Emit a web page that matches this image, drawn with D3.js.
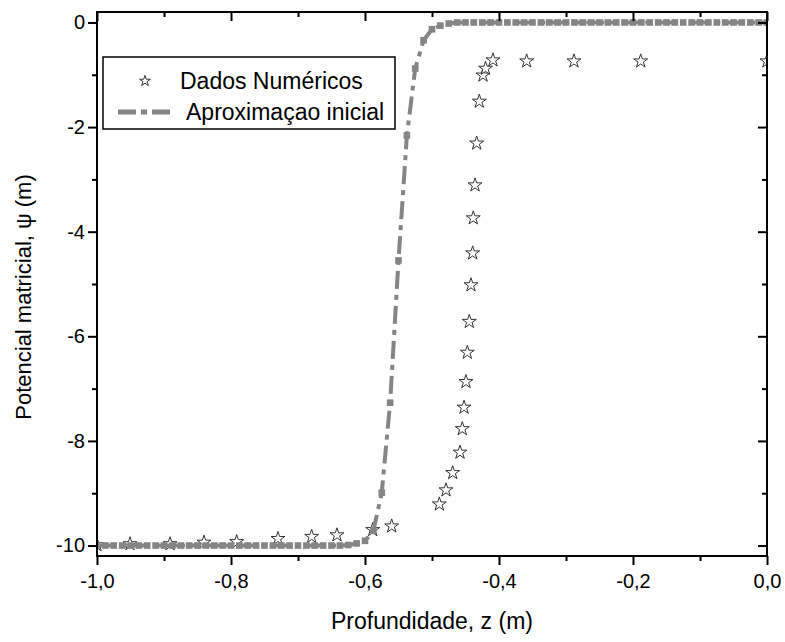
<!DOCTYPE html>
<html><head><meta charset="utf-8">
<script src="https://cdn.jsdelivr.net/npm/d3@7"></script>
<style>
body{margin:0;background:#fff}
svg{display:block}
text{font-family:"Liberation Sans",Arial,sans-serif;fill:#000}
</style>
</head><body><svg id="c" width="785" height="642"></svg>
<script>
// ---- data ----
const approxZ = [-1, -0.9875, -0.975, -0.9625, -0.95, -0.9375, -0.925, -0.9125, -0.9, -0.8875,
  -0.875, -0.8625, -0.85, -0.8375, -0.825, -0.8125, -0.8, -0.7875, -0.775, -0.7625,
  -0.75, -0.7375, -0.725, -0.7125, -0.7, -0.6875, -0.675, -0.6625, -0.65, -0.6375,
  -0.625, -0.6125, -0.6, -0.5875, -0.575, -0.5625, -0.55, -0.5375, -0.525, -0.5125,
  -0.5, -0.4875, -0.475, -0.4625, -0.45, -0.4375, -0.425, -0.4125, -0.4, -0.3875,
  -0.375, -0.3625, -0.35, -0.3375, -0.325, -0.3125, -0.3, -0.2875, -0.275, -0.2625,
  -0.25, -0.2375, -0.225, -0.2125, -0.2, -0.1875, -0.175, -0.1625, -0.15, -0.1375,
  -0.125, -0.1125, -0.1, -0.0875, -0.075, -0.0625, -0.05, -0.0375, -0.025, -0.0125, 0];
const approxPsi = [-10, -10, -10, -10, -10, -10, -10, -10, -10, -10,
  -10, -10, -10, -10, -10, -10, -10, -10, -10, -10,
  -10, -10, -10, -10, -10, -10, -10, -10, -10, -10,
  -9.99, -9.96, -9.91, -9.72, -8.99, -7.27, -4.55, -2.16, -0.88, -0.34,
  -0.13, -0.06, -0.02, 0, 0, 0, 0, 0, 0, 0,
  0, 0, 0, 0, 0, 0, 0, 0, 0, 0,
  0, 0, 0, 0, 0, 0, 0, 0, 0, 0,
  0, 0, 0, 0, 0, 0, 0, 0, 0, 0, 0];
const numZ = [-1.0, -0.9507, -0.891, -0.8403, -0.7915, -0.7299, -0.6796, -0.6418, -0.5885, -0.5601,
  -0.4891, -0.4791, -0.4691, -0.4582, -0.4548, -0.4522, -0.4493, -0.4473, -0.4443, -0.4418,
  -0.4393, -0.4384, -0.4358, -0.4333, -0.4294, -0.4239, -0.4201, -0.409,
  -0.3587, -0.2881, -0.1885, 0.0];
const numPsi = [-9.99, -9.97, -9.97, -9.94, -9.93, -9.87, -9.83, -9.80, -9.70, -9.63,
  -9.21, -8.94, -8.61, -8.22, -7.77, -7.36, -6.87, -6.31, -5.72, -5.02,
  -4.41, -3.74, -3.11, -2.31, -1.51, -1.01, -0.88, -0.72,
  -0.74, -0.74, -0.74, -0.74];
const xMajor = [-1.0, -0.8, -0.6, -0.4, -0.2, 0.0];
const xMinor = [-0.9, -0.7, -0.5, -0.3, -0.1];
const yMajor = [0, -2, -4, -6, -8, -10];
const yMinor = [-1, -3, -5, -7, -9];
const seriesNames = ["Dados Numéricos", "Aproximaçao inicial"];
const xTitle = "Profundidade, z (m)";
const yTitle = "Potencial matricial, ψ (m)";

// ---- layout ----
const L = 97, R = 767, T = 12, B = 556;
const svg = d3.select("#c");
const x = d3.scaleLinear().domain([-1, 0]).range([L, R]);
const y = d3.scaleLinear().domain([-10.2, 0.2]).range([B, T]);

const loc = d3.formatLocale({decimal: ",", thousands: ".", grouping: [3], currency: ["", ""], minus: "-"});
const fx = loc.format(".1f");
const fy = loc.format("d");

const gray = "#858585";

svg.append("defs").append("clipPath").attr("id", "clip")
  .append("rect").attr("x", L).attr("y", T).attr("width", R - L).attr("height", B - T);

const plot = svg.append("g").attr("clip-path", "url(#clip)");

// numeric data: stars
const star = d3.symbol().type(d3.symbolStar).size(60);
plot.append("g").selectAll("path").data(numZ.map((z, i) => [z, numPsi[i]])).join("path")
  .attr("d", star)
  .attr("transform", d => `translate(${x(d[0])},${y(d[1])})`)
  .attr("fill", "#fff").attr("stroke", "#333").attr("stroke-width", 1);

// approximation: dash-dot line + squares
const pts = approxZ.map((z, i) => [z, approxPsi[i]]);
const line = d3.line().x(d => x(d[0])).y(d => y(d[1]));
plot.append("path").datum(pts).attr("d", line)
  .attr("fill", "none").attr("stroke", gray).attr("stroke-width", 4)
  .attr("stroke-dasharray", "18,6,5,6");
const sq = d3.symbol().type(d3.symbolSquare).size(44);
plot.append("g").selectAll("path").data(pts).join("path")
  .attr("d", sq)
  .attr("transform", d => `translate(${x(d[0])},${y(d[1])})`)
  .attr("fill", gray);

// ---- axes ----
function styleAxis(g) {
  g.select(".domain").remove();
  g.selectAll("line").attr("stroke", "#000").attr("stroke-width", 2);
  g.selectAll("text").attr("font-size", 20).attr("fill", "#000")
    .style("font-family", '"Liberation Sans",Arial,sans-serif');
}
svg.append("g").attr("transform", `translate(0,${B})`)
  .call(d3.axisBottom(x).tickValues(xMajor).tickSize(9).tickPadding(9).tickFormat(fx)).call(styleAxis);
svg.append("g").attr("transform", `translate(0,${B})`)
  .call(d3.axisBottom(x).tickValues(xMinor).tickSize(5).tickFormat("")).call(styleAxis);
svg.append("g").attr("transform", `translate(0,${T})`)
  .call(d3.axisTop(x).tickValues(xMajor).tickSize(-9).tickFormat("")).call(styleAxis);
svg.append("g").attr("transform", `translate(0,${T})`)
  .call(d3.axisTop(x).tickValues(xMinor).tickSize(-5).tickFormat("")).call(styleAxis);
svg.append("g").attr("transform", `translate(${L},0)`)
  .call(d3.axisLeft(y).tickValues(yMajor).tickSize(9).tickPadding(3).tickFormat(fy)).call(styleAxis);
svg.append("g").attr("transform", `translate(${L},0)`)
  .call(d3.axisLeft(y).tickValues(yMinor).tickSize(5).tickFormat("")).call(styleAxis);
svg.append("g").attr("transform", `translate(${R},0)`)
  .call(d3.axisRight(y).tickValues(yMajor).tickSize(-9).tickFormat("")).call(styleAxis);
svg.append("g").attr("transform", `translate(${R},0)`)
  .call(d3.axisRight(y).tickValues(yMinor).tickSize(-5).tickFormat("")).call(styleAxis);

svg.append("rect").attr("x", L).attr("y", T).attr("width", R - L).attr("height", B - T)
  .attr("fill", "none").attr("stroke", "#000").attr("stroke-width", 2);

// titles
svg.append("text").attr("x", (L + R) / 2).attr("y", 629).attr("text-anchor", "middle")
  .attr("font-size", 23).text(xTitle);
svg.append("text").attr("transform", `translate(31,297) rotate(-90)`)
  .attr("text-anchor", "middle").attr("font-size", 22).text(yTitle);

// ---- legend ----
const lg = svg.append("g");
lg.append("rect").attr("x", 103).attr("y", 57).attr("width", 292).attr("height", 72)
  .attr("fill", "#fff").attr("stroke", "#000").attr("stroke-width", 1.5);
lg.append("path").attr("d", d3.symbol().type(d3.symbolStar).size(36))
  .attr("transform", "translate(145,81)")
  .attr("fill", "#fff").attr("stroke", "#333").attr("stroke-width", 1);
lg.append("text").attr("x", 180).attr("y", 89).attr("font-size", 23).text(seriesNames[0]);
lg.append("line").attr("x1", 118).attr("x2", 172).attr("y1", 112).attr("y2", 112)
  .attr("stroke", gray).attr("stroke-width", 5).attr("stroke-dasharray", "18,5,6,5");
lg.append("text").attr("x", 186).attr("y", 120).attr("font-size", 23).text(seriesNames[1]);
</script>
</body></html>
